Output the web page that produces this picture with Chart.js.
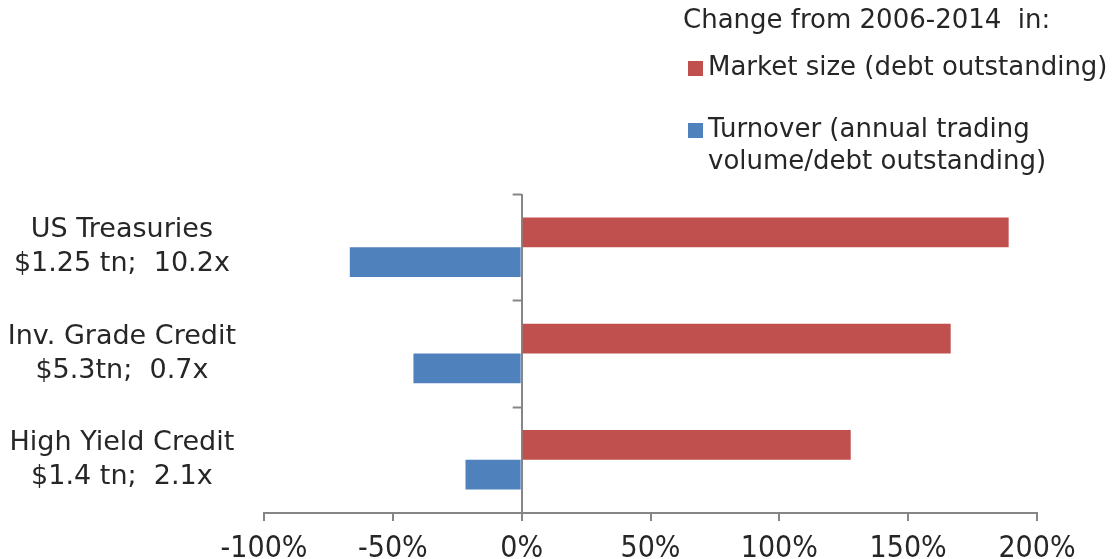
<!DOCTYPE html>
<html>
<head>
<meta charset="utf-8">
<script src="https://cdn.jsdelivr.net/npm/chart.js@4"></script>
<style>
  html, body { margin: 0; padding: 0; background: #fff; }
  #wrap { width: 1114px; height: 559px; }
</style>
</head>
<body>
<div id="wrap"><canvas id="chart"></canvas></div>
<script>
// ====== Dados ======
const categorias = [
    ["US Treasuries", "$1.25 tn;  10.2x"],
    ["Inv. Grade Credit", "$5.3tn;  0.7x"],
    ["High Yield Credit", "$1.4 tn;  2.1x"]
];
const tamanhoMercado = [189, 166.5, 127.7];   // % change market size
const giro = [-66.7, -42, -21.8];             // % change turnover
const legendaTitulo = "Change from 2006-2014  in:";
const legendaMercado = ["Market size (debt outstanding)"];
const legendaGiro = ["Turnover (annual trading", "volume/debt outstanding)"];
const eixoMin = -100, eixoMax = 200, eixoPasso = 50;

const FONTE = "'DejaVu Sans', sans-serif";
const TEXTO = "#262626";
const CINZA = "#868686";

// ====== Legenda desenhada à mão (canto superior direito) ======
const legendaPlugin = {
    id: "legendaCustom",
    afterDraw(chart) {
        const ctx = chart.ctx;
        const ds = chart.data.datasets;
        ctx.save();
        ctx.fillStyle = TEXTO;
        ctx.font = "26px " + FONTE;
        ctx.textBaseline = "middle";
        ctx.textAlign = "left";
        ctx.fillText(legendaTitulo, 683, 21);
        const itens = [
            { y: 68, linhas: legendaMercado, cor: ds[0].backgroundColor },
            { y: 130, linhas: legendaGiro, cor: ds[1].backgroundColor }
        ];
        itens.forEach(it => {
            ctx.fillStyle = it.cor;
            ctx.fillRect(688, it.y - 7, 15, 15);
            ctx.fillStyle = TEXTO;
            it.linhas.forEach((l, i) => ctx.fillText(l, 708, it.y + i * 32));
        });
        ctx.restore();
    }
};

// ====== Marcas de categoria sobre a linha do zero ======
const marcasZero = {
    id: "marcasZero",
    afterDatasetsDraw(chart) {
        const { ctx, scales: { x, y } } = chart;
        const x0 = x.getPixelForValue(0);
        const n = categorias.length;
        const passo = (y.bottom - y.top) / n;
        ctx.save();
        ctx.strokeStyle = CINZA;
        ctx.lineWidth = 2;
        for (let i = 0; i < n; i++) {
            const yy = Math.round(y.top + i * passo) + 0.5;
            ctx.beginPath();
            ctx.moveTo(x0 - 9, yy);
            ctx.lineTo(x0, yy);
            ctx.stroke();
        }
        ctx.restore();
    }
};

new Chart(document.getElementById("chart"), {
    type: "bar",
    data: {
        labels: categorias,
        datasets: [
            {
                label: legendaMercado.join(" "),
                data: tamanhoMercado,
                backgroundColor: "#C0504D",
                categoryPercentage: 0.56,
                barPercentage: 1.0
            },
            {
                label: legendaGiro.join(" "),
                data: giro,
                backgroundColor: "#4F81BD",
                categoryPercentage: 0.56,
                barPercentage: 1.0
            }
        ]
    },
    options: {
        indexAxis: "y",
        responsive: true,
        maintainAspectRatio: false,
        animation: false,
        layout: { padding: { top: 194, right: 77, left: 0, bottom: 0 } },
        plugins: {
            legend: { display: false },
            tooltip: { enabled: false }
        },
        scales: {
            x: {
                min: eixoMin,
                max: eixoMax,
                afterFit: s => { s.height = 46; s.paddingLeft = 0; s.paddingRight = 0; },
                ticks: {
                    stepSize: eixoPasso,
                    padding: 10,
                    color: TEXTO,
                    font: { family: "'Liberation Sans Narrow', 'DejaVu Sans Condensed', sans-serif", size: 30 },
                    callback: v => v + "%"
                },
                grid: {
                    color: c => (c.tick && c.tick.value === 0) ? CINZA : "rgba(0,0,0,0)",
                    lineWidth: 2,
                    tickColor: CINZA,
                    tickLength: 8
                },
                border: { display: true, color: CINZA, width: 2 }
            },
            y: {
                afterFit: s => { s.width = 264; s.paddingTop = 0; s.paddingBottom = 0; },
                grid: { display: false },
                border: { display: false },
                ticks: {
                    crossAlign: "center",
                    padding: 20,
                    color: TEXTO,
                    font: { family: FONTE, size: 27, lineHeight: 1.26 }
                }
            }
        }
    },
    plugins: [legendaPlugin, marcasZero]
});
</script>
</body>
</html>
